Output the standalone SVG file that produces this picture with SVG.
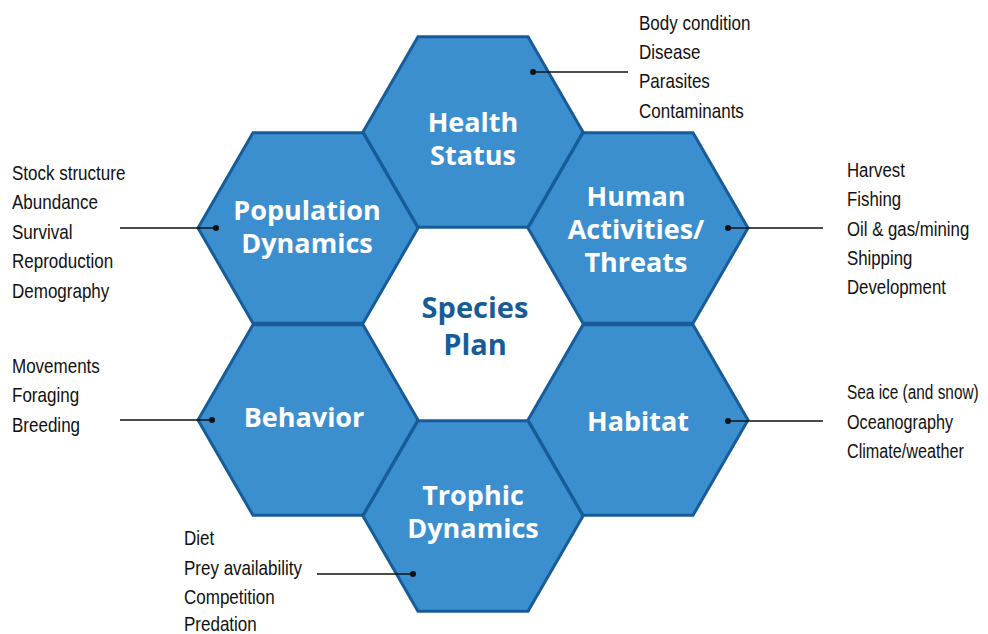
<svg xmlns="http://www.w3.org/2000/svg" width="988" height="634" viewBox="0 0 988 634">
<style>
.hex{fill:#3c8fcf;stroke:#175c98;stroke-width:3;stroke-linejoin:miter}
.lbl{font-family:"Open Sans","Liberation Sans",sans-serif;font-weight:700;font-size:27px;fill:#ffffff;text-anchor:middle}
.ctr{font-family:"Open Sans","Liberation Sans",sans-serif;font-weight:700;font-size:29px;fill:#175c98;text-anchor:middle}
.lst{font-family:"Liberation Sans",Arial,sans-serif;font-size:21px;fill:#111111}
.ln{stroke:#111111;stroke-width:1.5;fill:none}
.dot{fill:#111111}
</style>
<defs>
<polygon id="hx" points="-110,0 -55,-95.3 55,-95.3 110,0 55,95.3 -55,95.3"/>
</defs>
<g id="health-status">
<use href="#hx" class="hex" x="473" y="132"/>
<text class="lbl" x="473" y="132">Health</text>
<text class="lbl" x="473" y="165">Status</text>
</g>
<g id="population-dynamics">
<use href="#hx" class="hex" x="308" y="228"/>
<text class="lbl" x="307" y="220">Population</text>
<text class="lbl" x="307" y="253">Dynamics</text>
</g>
<g id="human-activities">
<use href="#hx" class="hex" x="638" y="228"/>
<text class="lbl" x="636" y="206">Human</text>
<text class="lbl" x="636" y="239">Activities/</text>
<text class="lbl" x="636" y="272">Threats</text>
</g>
<g id="behavior">
<use href="#hx" class="hex" x="308" y="420"/>
<text class="lbl" x="304" y="427">Behavior</text>
</g>
<g id="habitat">
<use href="#hx" class="hex" x="638" y="420"/>
<text class="lbl" x="638" y="431">Habitat</text>
</g>
<g id="trophic-dynamics">
<use href="#hx" class="hex" x="473" y="516"/>
<text class="lbl" x="473" y="505">Trophic</text>
<text class="lbl" x="473" y="538">Dynamics</text>
</g>
<g id="species-plan">
<text class="ctr" x="475" y="318">Species</text>
<text class="ctr" x="475" y="355">Plan</text>
</g>
<g id="connectors">
<line class="ln" x1="533" y1="72" x2="628" y2="72"/><circle class="dot" cx="533" cy="72" r="3"/>
<line class="ln" x1="120" y1="228" x2="216" y2="228"/><circle class="dot" cx="216" cy="228" r="3"/>
<line class="ln" x1="728" y1="228" x2="823" y2="228"/><circle class="dot" cx="728" cy="228" r="3"/>
<line class="ln" x1="120" y1="420" x2="212" y2="420"/><circle class="dot" cx="212" cy="420" r="3"/>
<line class="ln" x1="728" y1="421" x2="823" y2="421"/><circle class="dot" cx="728" cy="421" r="3"/>
<line class="ln" x1="317" y1="574" x2="413" y2="574"/><circle class="dot" cx="413" cy="574" r="3"/>
</g>
<g id="health-list" transform="translate(639,0) scale(0.81,1)">
<text class="lst" x="0" y="30">Body condition</text>
<text class="lst" x="0" y="59">Disease</text>
<text class="lst" x="0" y="88">Parasites</text>
<text class="lst" x="0" y="118">Contaminants</text>
</g>
<g id="population-list" transform="translate(12,0) scale(0.81,1)">
<text class="lst" x="0" y="180">Stock structure</text>
<text class="lst" x="0" y="209">Abundance</text>
<text class="lst" x="0" y="239">Survival</text>
<text class="lst" x="0" y="268">Reproduction</text>
<text class="lst" x="0" y="298">Demography</text>
</g>
<g id="human-list" transform="translate(847,0) scale(0.8,1)">
<text class="lst" x="0" y="177">Harvest</text>
<text class="lst" x="0" y="206">Fishing</text>
<text class="lst" x="0" y="236">Oil &amp; gas/mining</text>
<text class="lst" x="0" y="265">Shipping</text>
<text class="lst" x="0" y="294">Development</text>
</g>
<g id="behavior-list" transform="translate(12,0) scale(0.81,1)">
<text class="lst" x="0" y="373">Movements</text>
<text class="lst" x="0" y="402">Foraging</text>
<text class="lst" x="0" y="432">Breeding</text>
</g>
<g id="habitat-list" transform="translate(847,0) scale(0.77,1)">
<text class="lst" x="0" y="399" textLength="171" lengthAdjust="spacingAndGlyphs">Sea ice (and snow)</text>
<text class="lst" x="0" y="429">Oceanography</text>
<text class="lst" x="0" y="458">Climate/weather</text>
</g>
<g id="trophic-list" transform="translate(184,0) scale(0.81,1)">
<text class="lst" x="0" y="545">Diet</text>
<text class="lst" x="0" y="575">Prey availability</text>
<text class="lst" x="0" y="604">Competition</text>
<text class="lst" x="0" y="631">Predation</text>
</g>
</svg>
